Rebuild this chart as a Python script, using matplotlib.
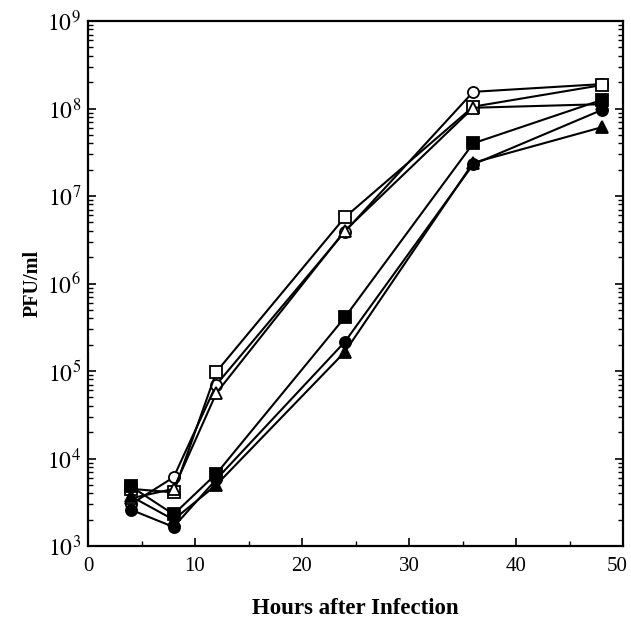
import numpy as np
import matplotlib
matplotlib.use("Agg")
import matplotlib.pyplot as plt
import matplotlib.transforms as mtransforms
from matplotlib.ticker import FixedLocator, FuncFormatter, LogLocator, NullFormatter

plt.rcParams["font.family"] = "Liberation Serif"
plt.rcParams["mathtext.fontset"] = "stix"

# Hours after infection
hours = [4, 8, 12, 24, 36, 48]
# PFU/ml for each series
open_circle = [3.0e3, 6.1e3, 7.0e4, 3.9e6, 1.55e8, 1.9e8]
open_square = [4.5e3, 4.1e3, 9.8e4, 5.7e6, 1.05e8, 1.85e8]
open_triangle = [3.5e3, 4.5e3, 5.6e4, 4.0e6, 1.02e8, 1.12e8]
filled_square = [4.8e3, 2.3e3, 6.7e3, 4.1e5, 4.0e7, 1.25e8]
filled_circle = [2.6e3, 1.65e3, 5.8e3, 2.15e5, 2.3e7, 9.6e7]
filled_triangle = [3.7e3, 2.0e3, 5.0e3, 1.65e5, 2.4e7, 6.1e7]

x_ticks = [0, 10, 20, 30, 40, 50]
y_exps = [3, 4, 5, 6, 7, 8, 9]

fig = plt.figure(figsize=(6.31, 6.28), dpi=100)
ax = fig.add_axes((88 / 631, 1 - 546 / 628, 535 / 631, 525 / 628))

series = [
    (open_circle, "o", "white"),
    (open_square, "s", "white"),
    (open_triangle, "^", "white"),
    (filled_square, "s", "black"),
    (filled_circle, "o", "black"),
    (filled_triangle, "^", "black"),
]
for vals, m, fc in series:
    ax.plot(hours, vals, color="black", lw=1.5, marker=m, ms=8,
            mfc=fc, mec="black", mew=1.3)

ax.set_yscale("log")
ax.set_xlim(0, 50)
ax.set_ylim(1e3, 1e9)

ax.xaxis.set_major_locator(FixedLocator(x_ticks))
ax.xaxis.set_minor_locator(FixedLocator([5, 15, 25, 35, 45]))
ax.yaxis.set_major_locator(FixedLocator([10.0 ** e for e in y_exps]))
ax.yaxis.set_minor_locator(LogLocator(base=10, subs=np.arange(2, 10)))
ax.yaxis.set_minor_formatter(NullFormatter())
ax.yaxis.set_major_formatter(FuncFormatter(lambda v, p: "$10^{%d}$" % round(np.log10(v))))

ax.tick_params(which="both", direction="in", top=False, right=True)
ax.tick_params(which="major", length=6, width=1.2)
ax.tick_params(which="minor", length=3.5, width=1.0)
ax.tick_params(axis="x", pad=8, labelsize=15)
ax.tick_params(axis="y", pad=5, labelsize=17)

for s in ax.spines.values():
    s.set_linewidth(1.6)

ax.set_xlabel("Hours after Infection", fontsize=16.5, fontweight="bold", labelpad=16)
ax.set_ylabel("PFU/ml", fontsize=14.5, fontweight="bold", labelpad=3)

# keep the last x label inside the figure, as in the original
fig.canvas.draw()
last = ax.get_xticklabels()[-1]
last.set_transform(last.get_transform() + mtransforms.ScaledTranslation(-6 / 100, 0, fig.dpi_scale_trans))

fig.savefig("out.png", dpi=100)
